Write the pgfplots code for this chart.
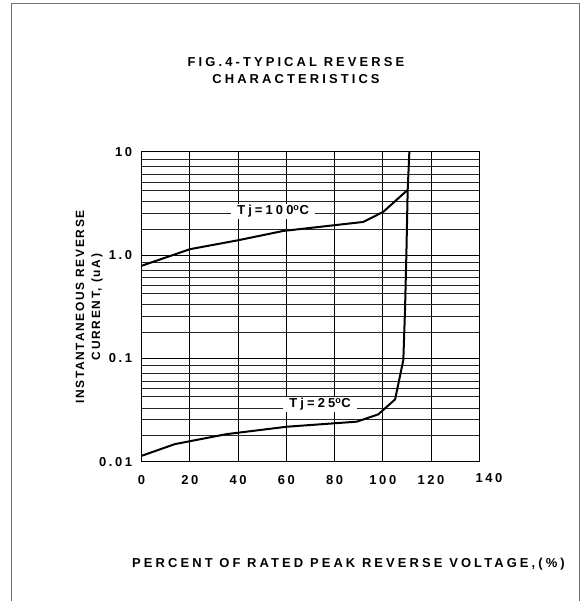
\documentclass[border=0pt]{standalone}
\usepackage{fontspec}
\setmainfont{Liberation Sans}
\newfontfamily\lsA[LetterSpace=24]{Liberation Sans Bold}
\newfontfamily\lsB[LetterSpace=20]{Liberation Sans Bold}
\newfontfamily\lsC[LetterSpace=14]{Liberation Sans Bold}
\usepackage{pgfplots}
\pgfplotsset{compat=1.18}
\begin{document}
\begin{tikzpicture}
\useasboundingbox (0,0) rectangle (587bp,601bp);
% outer frame, open at the bottom
\draw[black!55, line width=1.2bp] (11.5bp,0) -- (11.5bp,597.5bp) -- (579.5bp,597.5bp) -- (579.5bp,0);
\node[font=\lsA\fontsize{13}{17}\selectfont, align=center] at (296bp,530.5bp)
  {FIG.4-TYPICAL REVERSE\\CHARACTERISTICS};

\begin{axis}[at={(141.6bp,139.3bp)}, anchor=south west,
  scale only axis, width=337.7bp, height=310bp,
  xmin=0, xmax=140, ymode=log, ymin=0.01, ymax=10,
  xtick={0,20,...,140}, xticklabels={0,20,40,60,80,100,120,{}},
  ytick={0.01,0.1,1,10}, yticklabels={0.01,0.1,1.0,10},
  minor ytick={0.0179,0.0255,0.033,0.0425,0.0508,0.0601,0.0714,0.0847,
               0.179,0.255,0.33,0.425,0.508,0.601,0.714,0.847,
               1.79,2.55,3.3,4.25,5.08,6.01,7.14,8.47},
  grid=both,
  major grid style={black, line width=0.8bp},
  minor grid style={black!85, line width=0.8bp},
  axis line style={line width=1.1bp},
  major tick length=0pt, minor tick length=0pt,
  tick label style={font=\lsB\fontsize{13}{15}\selectfont},
  xticklabel style={yshift=-10bp},
  yticklabel style={xshift=-6bp},
]
% Tj = 100 C
\addplot[black, line width=2bp] coordinates {
  (0,0.787) (20.1,1.14) (40,1.39) (58.7,1.71) (91.9,2.09) (100.2,2.62) (110.2,4.25)};
% Tj = 25 C
\addplot[black, line width=2bp] coordinates {
  (0,0.0114) (13.8,0.0148) (35.3,0.0185) (60.2,0.0218) (89.2,0.0244) (98.1,0.0287)
  (105.1,0.0401) (108.5,0.0964) (109.2,0.29) (109.8,1.1) (110.3,4.2) (111,10)};
\node[fill=white, inner xsep=6bp, inner ysep=1.5bp, font=\lsA\fontsize{13}{15}\selectfont]
  at (axis cs:54.5,2.66) {Tj=100\textsuperscript{o}C};
\node[fill=white, inner xsep=6bp, inner ysep=1.5bp, font=\lsA\fontsize{13}{15}\selectfont]
  at (axis cs:74,0.0361) {Tj=25\textsuperscript{o}C};
\end{axis}

\node[font=\lsB\fontsize{13}{15}\selectfont] at (489bp,123bp) {140};
\node[rotate=90, font=\lsC\fontsize{12}{14}\selectfont] at (80bp,294bp) {INSTANTANEOUS REVERSE};
\node[rotate=90, font=\lsC\fontsize{12}{14}\selectfont] at (97bp,294bp) {CURRENT, (uA)};
\node[font=\lsA\fontsize{13}{15}\selectfont] at (348.5bp,37bp)
  {PERCENT OF RATED PEAK REVERSE VOLTAGE,(\%)};
\end{tikzpicture}
\end{document}
